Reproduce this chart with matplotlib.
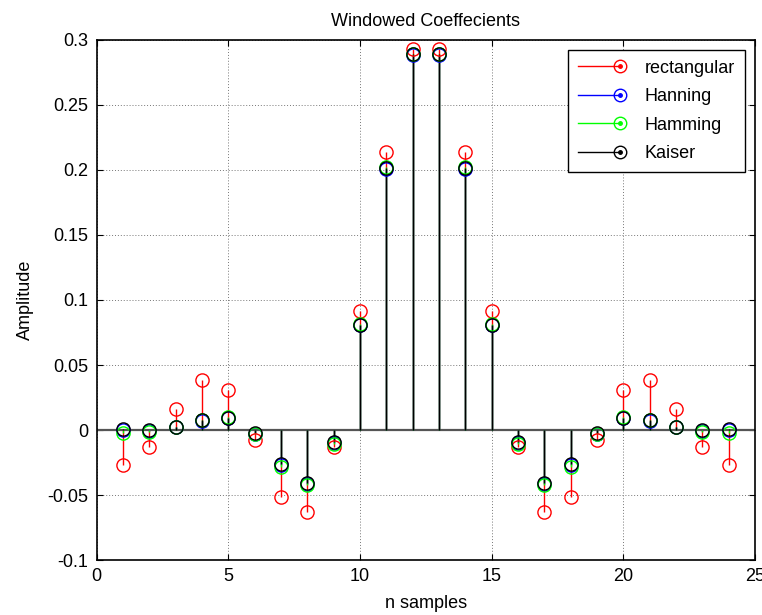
import matplotlib
matplotlib.use("Agg")
import matplotlib.pyplot as plt
from matplotlib.lines import Line2D
from matplotlib.legend_handler import HandlerBase

n = list(range(1, 25))
half_rect = [-0.027, -0.0128, 0.0164, 0.0385, 0.031, -0.0077, -0.0515, -0.0631, -0.0128, 0.0918, 0.2135, 0.2933]
half_hann = [0.0, -0.0005, 0.002, 0.0072, 0.0093, -0.0028, -0.027, -0.0412, -0.0098, 0.0805, 0.2008, 0.2885]
half_hamm = [-0.0022, -0.0012, 0.0022, 0.008, 0.0098, -0.0027, -0.0282, -0.0425, -0.0105, 0.0815, 0.2025, 0.2895]
half_kais = [0.0005, 0.0, 0.002, 0.0077, 0.0095, -0.0026, -0.0264, -0.0405, -0.0095, 0.0808, 0.2018, 0.289]
rectangular = half_rect + half_rect[::-1]
hanning = half_hann + half_hann[::-1]
hamming = half_hamm + half_hamm[::-1]
kaiser = half_kais + half_kais[::-1]

series = [("rectangular", rectangular, "#ff0000"),
          ("Hanning", hanning, "#0000ff"),
          ("Hamming", hamming, "#00ff00"),
          ("Kaiser", kaiser, "#000000")]

plt.rcParams['font.family'] = ['Liberation Sans', 'DejaVu Sans']

fig = plt.figure(figsize=(7.62, 6.15), dpi=100, facecolor='white')
ax = fig.add_axes([0.127, 0.0894, 0.864, 0.8456])

for name, vals, col in series:
    ax.vlines(n, 0, vals, colors=col, lw=1.0, zorder=3)
    ax.plot(n, vals, 'o', mfc='none', mec=col, ms=9.5, mew=1.0, zorder=4)

ax.axhline(0, color='#555555', lw=1.6, zorder=2)

ax.set_xlim(0, 25)
ax.set_ylim(-0.1, 0.3)
ax.set_xticks([0, 5, 10, 15, 20, 25])
ax.set_yticks([-0.1, -0.05, 0, 0.05, 0.1, 0.15, 0.2, 0.25, 0.3])
ax.set_yticklabels(['-0.1', '-0.05', '0', '0.05', '0.1', '0.15', '0.2', '0.25', '0.3'])
ax.grid(True, linestyle=(0, (1, 2)), color='#777777', lw=0.7)
ax.tick_params(direction='in', top=True, right=True, length=4, labelsize=13, width=0.8)
ax.tick_params(axis='x', pad=6)
ax.tick_params(axis='y', pad=6)
for s in ax.spines.values():
    s.set_linewidth(1.2)

ax.set_title('Windowed Coeffecients', fontsize=13, pad=10)
ax.set_xlabel('n samples', fontsize=13, labelpad=7)
ax.set_ylabel('Amplitude', fontsize=13, labelpad=10)


class StemHandler(HandlerBase):
    def create_artists(self, legend, orig_handle, xdescent, ydescent, width, height, fontsize, trans):
        col = orig_handle.get_color()
        y = height / 2 - ydescent
        x0 = -xdescent
        x1 = width - xdescent
        line = Line2D([x0, x1 - 5], [y, y], color=col, lw=1.0)
        circ = Line2D([x1 - 5], [y], marker='o', mfc='none', mec=col, ms=9, mew=1.0, ls='none')
        dot = Line2D([x1 - 5], [y], marker='o', color=col, ms=2.5, ls='none')
        for a in (line, circ, dot):
            a.set_transform(trans)
        return [line, circ, dot]


proxies = [Line2D([], [], color=c) for _, _, c in series]
hm = {p: StemHandler() for p in proxies}
leg = ax.legend(proxies, [s[0] for s in series], handler_map=hm, loc='upper right',
                bbox_to_anchor=(0.984, 0.981), fontsize=13, frameon=True, fancybox=False,
                edgecolor='black', framealpha=1, handlelength=2.75, handletextpad=0.95,
                borderpad=0.55, labelspacing=0.63, borderaxespad=0)
leg.get_frame().set_linewidth(1.0)

fig.savefig('out.png', dpi=100, facecolor='white')
